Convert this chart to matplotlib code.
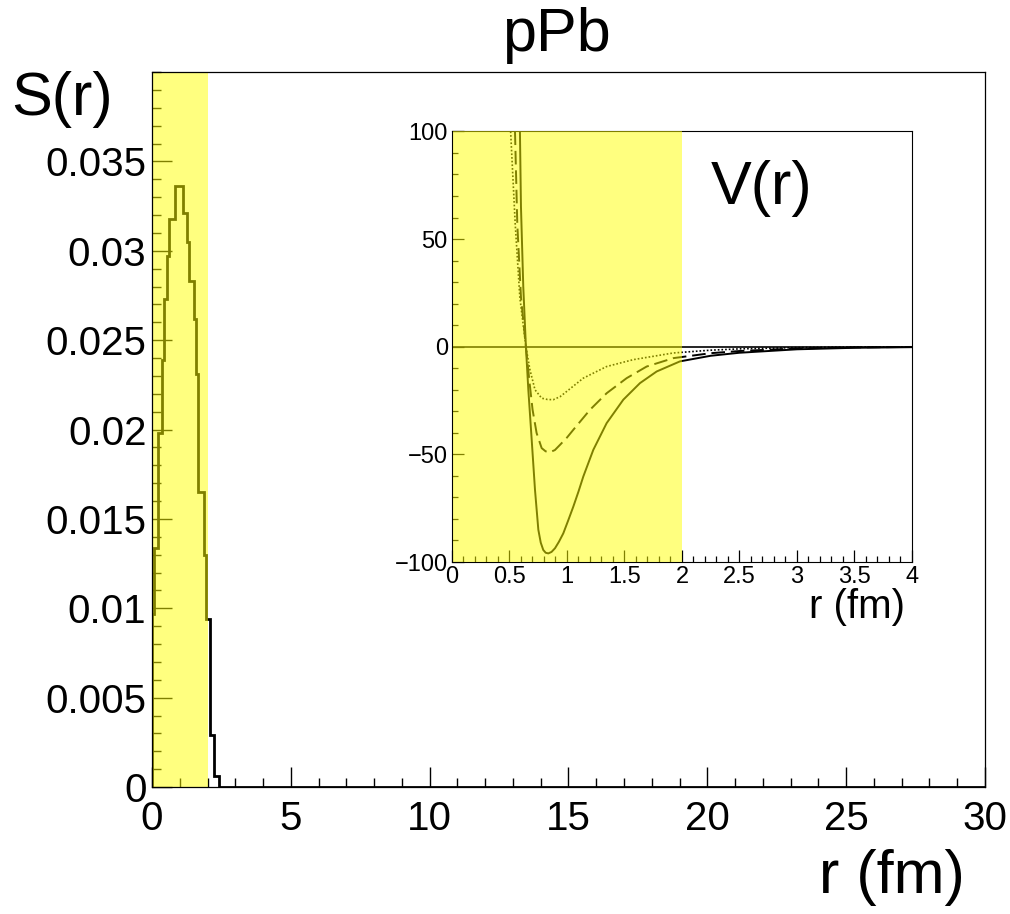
import numpy as np
import matplotlib
matplotlib.use("Agg")
import matplotlib.pyplot as plt
from matplotlib.ticker import FixedLocator, MultipleLocator

plt.rcParams['font.family'] = ['Liberation Sans', 'DejaVu Sans']

# S(r) histogram: 400 bins of 0.075 fm on 0..30 fm, only the first bins are non-zero
bin_width = 0.075
n_bins = 400
s_nonzero = [0.0097, 0.0134, 0.0134, 0.0198, 0.0198, 0.0239, 0.0273, 0.0297,
             0.0318, 0.0318, 0.0318, 0.0336, 0.0336, 0.0336, 0.0336, 0.0321,
             0.0321, 0.0305, 0.0283, 0.0283, 0.0262, 0.0231, 0.0165, 0.0165,
             0.0165, 0.0130, 0.0094, 0.0094, 0.0029, 0.0029, 0.0006, 0.0006]

# V(r) curves
r_solid = [0.591, 0.600, 0.620, 0.643, 0.664, 0.693, 0.722, 0.751, 0.772, 0.794,
           0.815, 0.838, 0.866, 0.896, 0.930, 0.968, 1.010, 1.055, 1.100, 1.142,
           1.229, 1.345, 1.490, 1.635, 1.780, 1.983, 2.25, 2.5, 3.0, 3.5, 4.0]
v_solid = [100, 65, 28, 0, -20, -43, -66.5, -85, -91, -94.4,
           -95.7, -96, -95.3, -93.6, -90.6, -86.7, -80.8, -74.3, -67.3, -60.3,
           -47.9, -35.5, -24.6, -16.9, -11.5, -6.8, -4.2, -2.8, -1.2, -0.5, -0.2]

r_dashed = [0.548, 0.568, 0.600, 0.643, 0.672, 0.701, 0.736, 0.780, 0.815, 0.852,
            0.895, 0.939, 1.000, 1.055, 1.200, 1.345, 1.519, 1.693, 1.925, 2.25,
            2.5, 3.0, 3.5, 4.0]
v_dashed = [100, 57, 23, 0, -15.3, -29.3, -40.1, -47.1, -48.6, -49,
            -48.0, -45.6, -42.2, -38.6, -29.3, -21.6, -14.6, -9.2, -5.3, -3.0,
            -2.0, -0.8, -0.3, -0.1]

r_dotted = [0.510, 0.550, 0.590, 0.643, 0.678, 0.722, 0.780, 0.830, 0.881, 0.940,
            0.997, 1.142, 1.345, 1.577, 1.925, 2.25, 2.5, 3.0, 3.5, 4.0]
v_dotted = [100, 57, 23, 0, -10.7, -20, -23.9, -24.5, -24.6, -23.2,
            -20.8, -14.6, -9.2, -6, -2.9, -1.6, -1.0, -0.4, -0.15, -0.05]

main_yticks = [0, 0.005, 0.01, 0.015, 0.02, 0.025, 0.03, 0.035]
main_ylabels = ['0', '0.005', '0.01', '0.015', '0.02', '0.025', '0.03', '0.035']
main_xticks = [0, 5, 10, 15, 20, 25, 30]
inset_xticks = [0, 0.5, 1, 1.5, 2, 2.5, 3, 3.5, 4]
inset_xlabels = ['0', '0.5', '1', '1.5', '2', '2.5', '3', '3.5', '4']
inset_yticks = [-100, -50, 0, 50, 100]

band = (0, 2)

fig = plt.figure(figsize=(10.1, 9.14), dpi=100)

# main pad
ax = fig.add_axes([0.1505, 0.1389, 0.8247, 0.7823])
edges = np.arange(n_bins + 1) * bin_width
values = np.zeros(n_bins)
values[:len(s_nonzero)] = s_nonzero
ax.stairs(values, edges, color='black', lw=2.0, zorder=2)
ax.axvspan(*band, color='yellow', alpha=0.5, lw=0, zorder=3)
ax.set_xlim(0, 30)
ax.set_ylim(0, 0.04)
ax.xaxis.set_major_locator(FixedLocator(main_xticks))
ax.xaxis.set_minor_locator(MultipleLocator(1))
ax.yaxis.set_major_locator(FixedLocator(main_yticks))
ax.set_yticklabels(main_ylabels)
ax.yaxis.set_minor_locator(MultipleLocator(0.001))
ax.tick_params(which='both', direction='in', labelsize=29, width=1.0)
ax.tick_params(which='major', length=14.5)
ax.tick_params(which='minor', length=6.5)
ax.tick_params(axis='x', pad=9)
ax.tick_params(axis='y', pad=4)
for sp in ax.spines.values():
    sp.set_linewidth(0.9)
    sp.set_zorder(4)

fig.text(0.5505, 0.9617, 'pPb', fontsize=44, ha='center', va='center')
fig.text(0.0614, 0.8906, 'S(r)', fontsize=44, ha='center', va='center')
fig.text(0.955, 0.0394, 'r (fm)', fontsize=44, ha='right', va='center')

# inset with the potentials
ins = fig.add_axes([0.4475, 0.3851, 0.4554, 0.4711])
ins.axhline(0, color='black', lw=1.2, zorder=2)
ins.plot(r_solid, v_solid, color='black', lw=1.4, zorder=2)
ins.plot(r_dashed, v_dashed, color='black', lw=1.4, dashes=(7, 3), zorder=2)
ins.plot(r_dotted, v_dotted, color='black', lw=1.2, dashes=(1, 1.2), zorder=2)
ins.axvspan(*band, color='yellow', alpha=0.5, lw=0, zorder=3)
ins.set_xlim(0, 4)
ins.set_ylim(-100, 100)
ins.xaxis.set_major_locator(FixedLocator(inset_xticks))
ins.set_xticklabels(inset_xlabels)
ins.xaxis.set_minor_locator(MultipleLocator(0.1))
ins.yaxis.set_major_locator(FixedLocator(inset_yticks))
ins.yaxis.set_minor_locator(MultipleLocator(10))
ins.tick_params(which='both', direction='in', labelsize=17, width=0.9)
ins.tick_params(which='major', length=8.5)
ins.tick_params(which='minor', length=4.3)
ins.tick_params(axis='x', pad=3)
ins.tick_params(axis='y', pad=3)
for sp in ins.spines.values():
    sp.set_linewidth(0.8)
ins.spines['left'].set_zorder(4)

fig.text(0.7545, 0.7943, 'V(r)', fontsize=44, ha='center', va='center')
fig.text(0.896, 0.3359, 'r (fm)', fontsize=29, ha='right', va='center')

fig.savefig('out.png', dpi=100)
